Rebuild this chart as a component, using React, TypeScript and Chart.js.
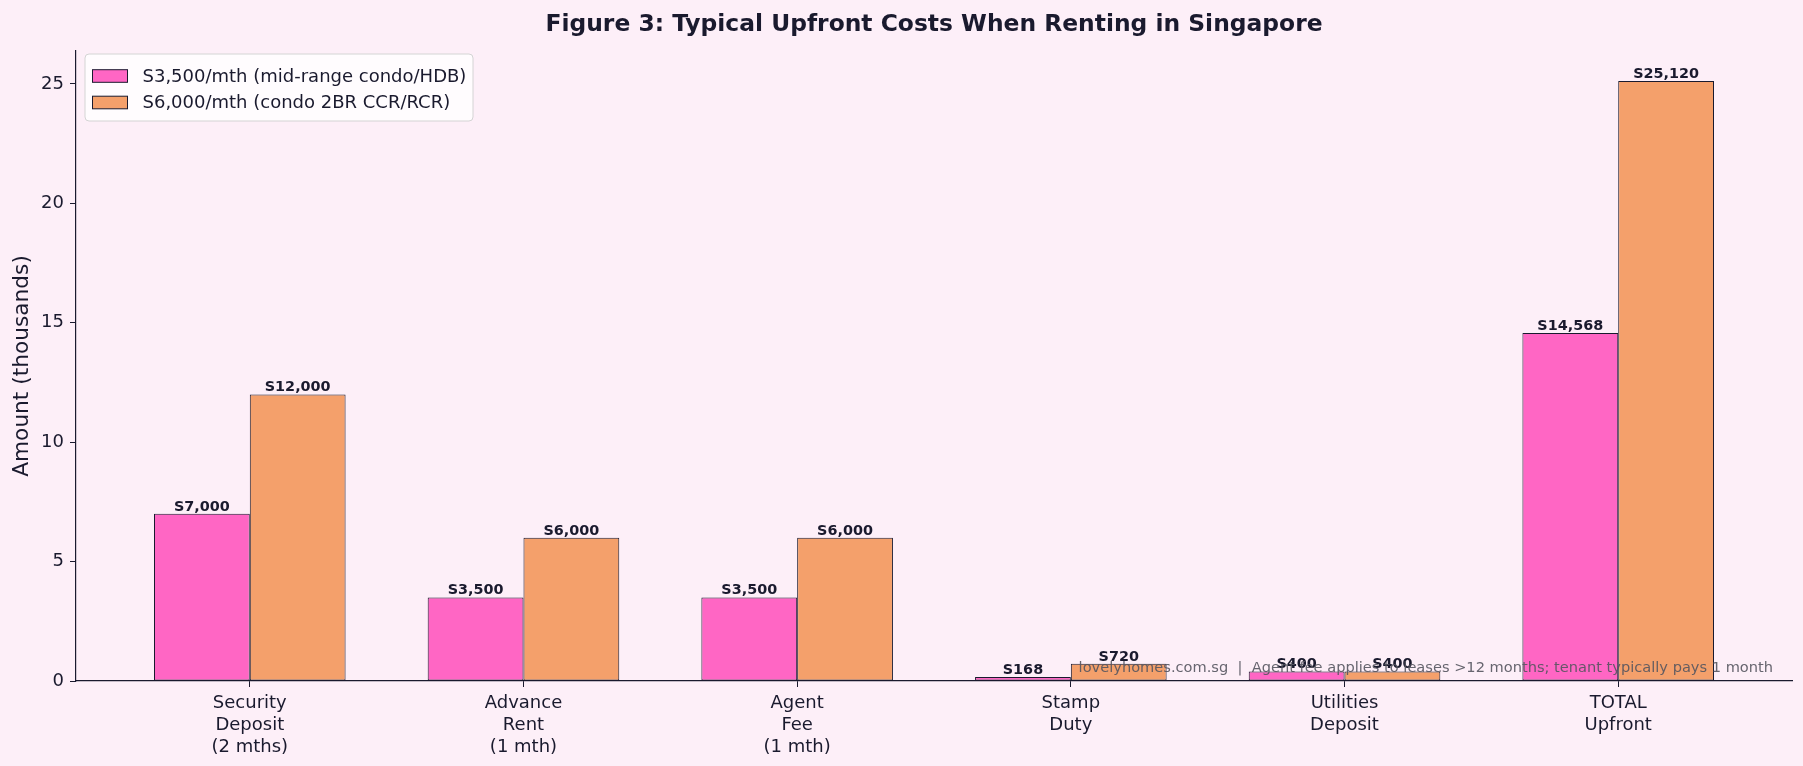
import React, { useEffect, useRef } from "react";
import { Chart, registerables } from "chart.js";

Chart.register(...registerables);

const categories: string[][] = [
  ["Security", "Deposit", "(2 mths)"],
  ["Advance", "Rent", "(1 mth)"],
  ["Agent", "Fee", "(1 mth)"],
  ["Stamp", "Duty"],
  ["Utilities", "Deposit"],
  ["TOTAL", "Upfront"],
];
const seriesAName = "S3,500/mth (mid-range condo/HDB)";
const seriesBName = "S6,000/mth (condo 2BR CCR/RCR)";
const seriesAValues = [7.0, 3.5, 3.5, 0.168, 0.4, 14.568];
const seriesBValues = [12.0, 6.0, 6.0, 0.72, 0.4, 25.12];
const yTicks = [0, 5, 10, 15, 20, 25];
const titleText = "Figure 3: Typical Upfront Costs When Renting in Singapore";
const yAxisLabel = "Amount (thousands)";
const footnote =
  "lovelyhomes.com.sg  |  Agent fee applies to leases >12 months; tenant typically pays 1 month";

const W = 1803;
const H = 766;
const BG = "#fdeff8";
const DARK = "#1a1a2e";
const PINK = "#ff66c4";
const ORANGE = "#f4a06b";
const FONT = "'DejaVu Sans', sans-serif";

const fmt = (v: number) => "S" + Math.round(v * 1000).toLocaleString("en-US");

export default function App() {
  const ref = useRef<HTMLCanvasElement | null>(null);

  useEffect(() => {
    document.body.style.margin = "0";
    document.body.style.background = BG;
    const canvas = ref.current!;
    const decor = {
      id: "decor",
      beforeDraw(chart: any) {
        const ctx = chart.ctx;
        ctx.save();
        ctx.fillStyle = BG;
        ctx.fillRect(0, 0, chart.width, chart.height);
        ctx.restore();
      },
      afterDatasetsDraw(chart: any) {
        const ctx = chart.ctx;
        ctx.save();
        ctx.font = `bold 14.4px ${FONT}`;
        ctx.fillStyle = DARK;
        ctx.textAlign = "center";
        ctx.textBaseline = "alphabetic";
        chart.data.datasets.forEach((ds: any, di: number) => {
          const meta = chart.getDatasetMeta(di);
          meta.data.forEach((el: any, i: number) => {
            ctx.fillText(fmt(ds.data[i].y), el.x, el.y - 3);
          });
        });
        ctx.restore();
      },
      afterDraw(chart: any) {
        const ctx = chart.ctx;
        const area = chart.chartArea;
        ctx.save();
        // title
        ctx.font = `bold 23.4px ${FONT}`;
        ctx.fillStyle = DARK;
        ctx.textAlign = "center";
        ctx.textBaseline = "middle";
        ctx.fillText(titleText, (area.left + area.right) / 2, 25);
        // y label
        ctx.save();
        ctx.translate(22, (area.top + area.bottom) / 2);
        ctx.rotate(-Math.PI / 2);
        ctx.font = `21.7px ${FONT}`;
        ctx.fillStyle = DARK;
        ctx.textAlign = "center";
        ctx.textBaseline = "middle";
        ctx.fillText(yAxisLabel, 0, 0);
        ctx.restore();
        // legend
        const lx = area.left + 9;
        const ly = 54;
        const lw = 388;
        const lh = 67;
        const r = 4;
        ctx.beginPath();
        ctx.moveTo(lx + r, ly);
        ctx.lineTo(lx + lw - r, ly);
        ctx.quadraticCurveTo(lx + lw, ly, lx + lw, ly + r);
        ctx.lineTo(lx + lw, ly + lh - r);
        ctx.quadraticCurveTo(lx + lw, ly + lh, lx + lw - r, ly + lh);
        ctx.lineTo(lx + r, ly + lh);
        ctx.quadraticCurveTo(lx, ly + lh, lx, ly + lh - r);
        ctx.lineTo(lx, ly + r);
        ctx.quadraticCurveTo(lx, ly, lx + r, ly);
        ctx.closePath();
        ctx.fillStyle = "rgba(255,255,255,0.8)";
        ctx.fill();
        ctx.strokeStyle = "#d4d4d4";
        ctx.lineWidth = 1;
        ctx.stroke();
        const items = [
          { name: seriesAName, color: PINK },
          { name: seriesBName, color: ORANGE },
        ];
        items.forEach((it, i) => {
          const cy = ly + 22 + i * 26.5;
          ctx.fillStyle = it.color;
          ctx.fillRect(lx + 7, cy - 6.3, 36, 12.6);
          ctx.strokeStyle = DARK;
          ctx.lineWidth = 1;
          ctx.strokeRect(lx + 7.5, cy - 6.3, 35, 12.6);
          ctx.font = `18px ${FONT}`;
          ctx.fillStyle = DARK;
          ctx.textAlign = "left";
          ctx.textBaseline = "middle";
          ctx.fillText(it.name, lx + 57.5, cy + 1);
        });
        // footnote
        ctx.font = `14.6px ${FONT}`;
        ctx.fillStyle = "rgba(85,85,95,0.9)";
        ctx.textAlign = "right";
        ctx.textBaseline = "middle";
        ctx.fillText(footnote, 1773, 668);
        ctx.restore();
      },
    };

    const chart = new Chart(canvas, {
      type: "bar",
      data: {
        datasets: [
          {
            label: seriesAName,
            data: seriesAValues.map((v, i) => ({ x: i, y: v })),
            backgroundColor: PINK,
            borderColor: DARK,
            borderWidth: 1,
            borderSkipped: false,
          },
          {
            label: seriesBName,
            data: seriesBValues.map((v, i) => ({ x: i, y: v })),
            backgroundColor: ORANGE,
            borderColor: DARK,
            borderWidth: 1,
            borderSkipped: false,
          },
        ],
      } as any,
      options: {
        responsive: false,
        animation: false,
        devicePixelRatio: 1,
        categoryPercentage: 0.7,
        barPercentage: 1,
        layout: { padding: { top: 51, right: 11, left: 0, bottom: 0 } },
        plugins: {
          legend: { display: false },
          title: { display: false },
          tooltip: { enabled: false },
        },
        scales: {
          x: {
            type: "linear",
            offset: false,
            min: -0.635,
            max: 5.635,
            afterBuildTicks: (axis: any) => {
              axis.ticks = categories.map((_, i) => ({ value: i }));
            },
            afterFit: (axis: any) => {
              axis.height = 85;
            },
            grid: {
              offset: false,
              drawOnChartArea: false,
              drawTicks: true,
              tickLength: 6,
              color: DARK,
              lineWidth: 1,
            },
            border: { display: true, color: DARK, width: 1.2 },
            ticks: {
              autoSkip: false,
              maxRotation: 0,
              padding: 6,
              color: DARK,
              font: { family: FONT, size: 18, lineHeight: 1.2 },
              callback: (v: any) => categories[Math.round(Number(v))] ?? "",
            },
          },
          y: {
            type: "linear",
            min: 0,
            max: 26.376,
            afterBuildTicks: (axis: any) => {
              axis.ticks = yTicks.map((v) => ({ value: v }));
            },
            afterFit: (axis: any) => {
              axis.width = 76;
            },
            grid: {
              drawOnChartArea: false,
              drawTicks: true,
              tickLength: 6,
              color: DARK,
              lineWidth: 1,
            },
            border: { display: true, color: DARK, width: 1.2 },
            ticks: {
              includeBounds: false,
              padding: 6,
              color: DARK,
              font: { family: FONT, size: 18 },
              callback: (v: any) => String(v),
            },
          },
        },
      } as any,
      plugins: [decor],
    });
    return () => chart.destroy();
  }, []);

  return (
    <div style={{ position: "absolute", left: 0, top: 0, width: W, height: H, background: BG }}>
      <canvas ref={ref} width={W} height={H} style={{ width: W, height: H, display: "block" }} />
    </div>
  );
}
